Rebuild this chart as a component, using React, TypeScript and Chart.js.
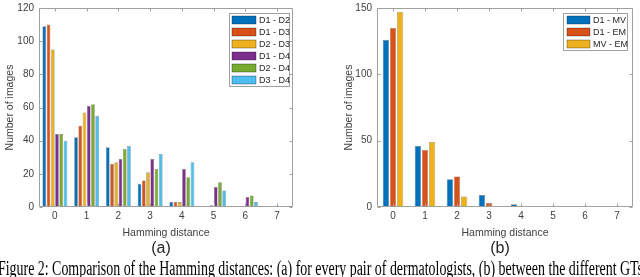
import React, { useEffect, useLayoutEffect, useRef } from 'react';
import { Chart, registerables } from 'chart.js';

Chart.register(...registerables);

// ---------- data ----------
const categories = ['0', '1', '2', '3', '4', '5', '6', '7'];

const pairLabels = ['D1 - D2', 'D1 - D3', 'D2 - D3', 'D1 - D4', 'D2 - D4', 'D3 - D4'];
const d1d2 = [109, 42, 36, 14, 3, 0, 0, 0];
const d1d3 = [110, 49, 26, 16, 3, 0, 0, 0];
const d2d3 = [95, 57, 27, 21, 3, 1, 0, 0];
const d1d4 = [44, 61, 29, 29, 23, 12, 6, 0];
const d2d4 = [44, 62, 35, 23, 18, 15, 7, 0];
const d3d4 = [40, 55, 37, 32, 27, 10, 3, 0];

const gtLabels = ['D1 - MV', 'D1 - EM', 'MV - EM'];
const d1mv = [126, 46, 21, 9, 2, 0, 0, 0];
const d1em = [135, 43, 23, 3, 0, 0, 0, 0];
const mvem = [147, 49, 8, 0, 0, 0, 0, 0];

const yTicksA = [0, 20, 40, 60, 80, 100, 120];
const yTicksB = [0, 50, 100, 150];

const palette = ['#0072BD', '#D95319', '#EDB120', '#7E2F8E', '#77AC30', '#4DBEEE'];

const FONT = "'Liberation Sans', Arial, Helvetica, sans-serif";
const TEXT = '#404040';
const AXIS = '#a0a0a0';
const SHIFT = 3; // canvas drawn slightly above the page top

// ---------- plugins ----------
const framePlugin = {
  id: 'matlabFrame',
  afterDatasetsDraw(chart: any) {
    const { ctx, chartArea: a, scales } = chart;
    const tl = 3;
    ctx.save();
    ctx.strokeStyle = AXIS;
    ctx.lineWidth = 1;
    ctx.beginPath();
    const L = Math.round(a.left) + 0.5, R = Math.round(a.right) - 0.5;
    const T = Math.round(a.top) + 0.5, B = Math.round(a.bottom) - 0.5;
    ctx.rect(L, T, R - L, B - T);
    const xs = scales.x;
    for (let i = 0; i < xs.ticks.length; i++) {
      const px = Math.round(xs.getPixelForTick(i)) + 0.5;
      ctx.moveTo(px, B); ctx.lineTo(px, B - tl);
      ctx.moveTo(px, T); ctx.lineTo(px, T + tl);
    }
    const ys = scales.y;
    for (let i = 0; i < ys.ticks.length; i++) {
      const py = Math.round(ys.getPixelForTick(i)) + 0.5;
      ctx.moveTo(L, py); ctx.lineTo(L + tl, py);
      ctx.moveTo(R, py); ctx.lineTo(R - tl, py);
    }
    ctx.stroke();
    ctx.restore();
  },
};

const insideLegend = {
  id: 'insideLegend',
  afterDraw(chart: any, _args: any, opts: any) {
    const { ctx, chartArea: a } = chart;
    const ds = chart.data.datasets;
    const rowH = 12;
    const w = opts.width;
    const left = a.right - opts.right - w;
    const top = opts.absTop + SHIFT;
    const h = ds.length * rowH + 1;
    ctx.save();
    ctx.fillStyle = '#ffffff';
    ctx.fillRect(left, top, w, h);
    ctx.strokeStyle = AXIS;
    ctx.lineWidth = 1;
    ctx.strokeRect(Math.round(left) + 0.5, Math.round(top) + 0.5, w, h);
    ctx.font = `9px ${FONT}`;
    ctx.textBaseline = 'middle';
    ds.forEach((d: any, i: number) => {
      const cy = top + 1 + rowH * i + rowH / 2;
      ctx.fillStyle = d.backgroundColor;
      ctx.fillRect(left + opts.swX, cy - 4, opts.swW, 8);
      ctx.strokeStyle = 'rgba(0,0,0,0.5)';
      ctx.lineWidth = 0.6;
      ctx.strokeRect(left + opts.swX, cy - 4, opts.swW, 8);
      ctx.fillStyle = '#262626';
      ctx.fillText(d.label, left + opts.swX + opts.swW + 3, cy + 0.5);
    });
    ctx.restore();
  },
};

function makeConfig(labels: string[], series: number[][], yTicks: number[], catPct: number, legend: any, yWidth: number) {
  const yMax = yTicks[yTicks.length - 1];
  const step = yTicks[1] - yTicks[0];
  return {
    type: 'bar',
    data: {
      labels: categories,
      datasets: series.map((s, i) => ({
        label: labels[i],
        data: s,
        backgroundColor: palette[i],
        borderColor: 'rgba(0,0,0,0.5)',
        borderWidth: 0.6,
        categoryPercentage: catPct,
        barPercentage: 0.88,
      })),
    },
    options: {
      animation: false,
      responsive: false,
      maintainAspectRatio: false,
      events: [],
      layout: { padding: { top: 4, right: 7, bottom: 0, left: 0 } },
      plugins: {
        legend: { display: false },
        tooltip: { enabled: false },
        insideLegend: legend,
      },
      scales: {
        x: {
          type: 'category',
          offset: true,
          grid: { display: false, drawTicks: false },
          border: { display: false },
          ticks: { color: TEXT, font: { family: FONT, size: 10 }, padding: 3, maxRotation: 0 },
          title: {
            display: true,
            text: 'Hamming distance',
            color: TEXT,
            font: { family: FONT, size: 10.5 },
            padding: { top: 1, bottom: 1 },
          },
          afterFit: (s: any) => { s.height = 33; },
        },
        y: {
          min: 0,
          max: yMax,
          grid: { display: false, drawTicks: false },
          border: { display: false },
          ticks: { stepSize: step, color: TEXT, font: { family: FONT, size: 10 }, padding: 5 },
          title: {
            display: true,
            text: 'Number of images',
            color: TEXT,
            font: { family: FONT, size: 10.5 },
            padding: { top: 4, bottom: 1 },
          },
          afterFit: (s: any) => { s.width = yWidth; },
        },
      },
    },
    plugins: [framePlugin, insideLegend],
  } as any;
}

function BarChart(props: { config: any; left: number; width: number; height: number }) {
  const ref = useRef<HTMLCanvasElement | null>(null);
  useEffect(() => {
    if (!ref.current) return;
    const chart = new Chart(ref.current, props.config);
    return () => chart.destroy();
  }, []);
  return (
    <canvas
      ref={ref}
      width={props.width}
      height={props.height}
      style={{ position: 'absolute', left: props.left, top: -SHIFT, width: props.width, height: props.height }}
    />
  );
}

const configA = makeConfig(pairLabels, [d1d2, d1d3, d2d3, d1d4, d2d4, d3d4], yTicksA, 0.8,
  { width: 60, right: 4, absTop: 13, swX: 3, swW: 24 }, 39);
const configB = makeConfig(gtLabels, [d1mv, d1em, mvem], yTicksB, 0.667,
  { width: 64, right: 6, absTop: 13, swX: 4, swW: 23 }, 38);

const captionText = 'Figure 2: Comparison of the Hamming distances: (a) for every pair of dermatologists, (b) between the different GTs';

export default function App() {
  const capRef = useRef<HTMLSpanElement | null>(null);
  useLayoutEffect(() => {
    const el = capRef.current;
    if (!el) return;
    el.style.transform = 'none';
    const w = el.getBoundingClientRect().width;
    el.style.transform = `scaleX(${645 / w})`;
  }, []);
  return (
    <div style={{ position: 'fixed', left: 0, top: 0, width: 640, height: 277, overflow: 'hidden', background: '#fff' }}>
      <BarChart config={configA} left={0} width={300} height={240 + SHIFT} />
      <BarChart config={configB} left={339} width={301} height={240 + SHIFT} />
      <div style={{ position: 'absolute', left: 146, top: 238, width: 30, textAlign: 'center', font: `16px ${FONT}`, color: '#262626', lineHeight: '20px' }}>(a)</div>
      <div style={{ position: 'absolute', left: 485, top: 238, width: 30, textAlign: 'center', font: `16px ${FONT}`, color: '#262626', lineHeight: '20px' }}>(b)</div>
      <span
        ref={capRef}
        style={{
          position: 'absolute', left: -2, top: 258, whiteSpace: 'nowrap',
          fontFamily: "'Liberation Serif', 'Times New Roman', serif", fontSize: 20, lineHeight: '20px',
          color: '#000', transformOrigin: '0 0', display: 'inline-block',
        }}
      >
        {captionText}
      </span>
    </div>
  );
}
